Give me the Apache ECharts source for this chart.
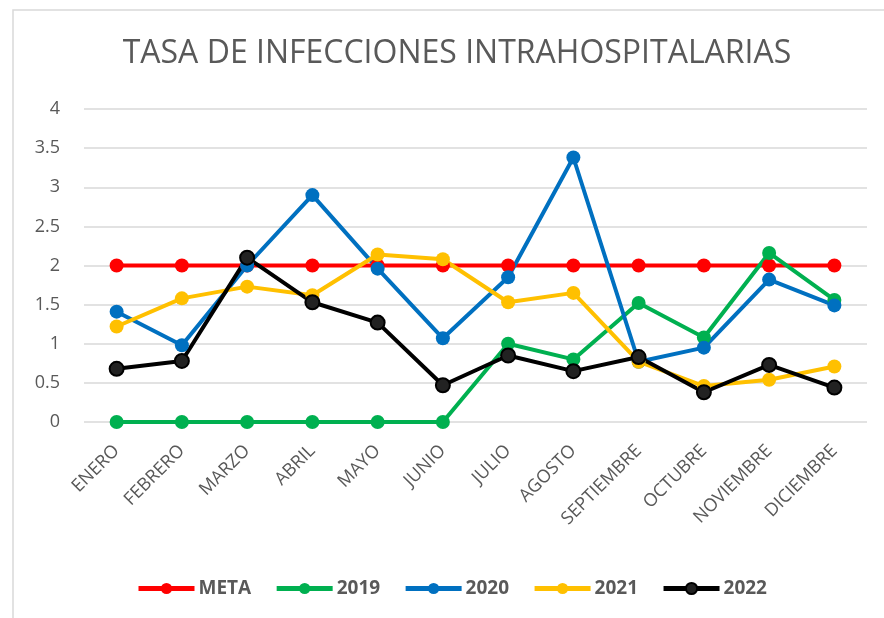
<!DOCTYPE html>
<html>
<head>
<meta charset="utf-8">
<script src="https://cdn.jsdelivr.net/npm/echarts@6/dist/echarts.min.js"></script>
<style>
  html, body { margin: 0; padding: 0; background: #fff; }
  #chart { width: 884px; height: 618px; }
</style>
</head>
<body>
<div id="chart"></div>
<script>
// datos
const meses = ['ENERO', 'FEBRERO', 'MARZO', 'ABRIL', 'MAYO', 'JUNIO', 'JULIO', 'AGOSTO', 'SEPTIEMBRE', 'OCTUBRE', 'NOVIEMBRE', 'DICIEMBRE']
const meta = [2, 2, 2, 2, 2, 2, 2, 2, 2, 2, 2, 2]
const y2019 = [0, 0, 0, 0, 0, 0, 1.0, 0.8, 1.52, 1.08, 2.16, 1.56]
const y2020 = [1.41, 0.98, 2.0, 2.9, 1.96, 1.07, 1.85, 3.38, 0.77, 0.95, 1.82, 1.49]
const y2021 = [1.22, 1.58, 1.73, 1.62, 2.14, 2.08, 1.53, 1.65, 0.77, 0.46, 0.54, 0.71]
const y2022 = [0.68, 0.78, 2.1, 1.53, 1.27, 0.47, 0.85, 0.65, 0.83, 0.38, 0.73, 0.44]

const font = 'Open Sans, sans-serif'
const textColor = '#595959'

function serie(name, data, color, border) {
  return {
    name,
    type: 'line',
    data,
    symbol: 'circle',
    symbolSize: 14,
    lineStyle: { width: 4, color },
    itemStyle: { color: border ? '#222' : color, borderColor: color, borderWidth: border ? 2 : 0 },
    emphasis: { disabled: true },
    animation: false
  }
}

const chart = echarts.init(document.getElementById('chart'))
chart.setOption({
  backgroundColor: '#fff',
  graphic: [{
    type: 'rect',
    shape: { x: 13, y: 10, width: 900, height: 700 },
    style: { fill: 'none', stroke: '#d9d9d9', lineWidth: 1.5 }
  }],
  title: {
    text: 'TASA DE INFECCIONES INTRAHOSPITALARIAS',
    left: 452,
    textAlign: 'center',
    top: 33,
    textStyle: { fontFamily: font, fontSize: 32, fontWeight: 'normal', color: textColor }
  },
  legend: {
    top: 574,
    left: 131,
    itemWidth: 56,
    itemHeight: 14,
    itemGap: 23,
    lineStyle: { width: 5 },
    textStyle: { fontFamily: font, fontSize: 19, fontWeight: 'bold', color: textColor, padding: [0, 0, 0, -1] },
    data: ['META', '2019', '2020', '2021', '2022']
  },
  grid: { left: 84, right: 17, top: 109, bottom: 196 },
  xAxis: {
    type: 'category',
    data: meses,
    boundaryGap: true,
    axisLine: { show: false },
    axisTick: { show: false },
    axisLabel: {
      rotate: 45,
      interval: 0,
      margin: 26,
      fontFamily: font,
      fontSize: 18,
      color: textColor
    }
  },
  yAxis: {
    type: 'value',
    min: 0,
    max: 4,
    interval: 0.5,
    axisLine: { show: false },
    axisTick: { show: false },
    axisLabel: { fontFamily: font, fontSize: 18, color: textColor, margin: 24 },
    splitLine: { lineStyle: { color: '#d9d9d9', width: 1.5 } }
  },
  series: [
    serie('META', meta, '#ff0000'),
    serie('2019', y2019, '#00b050'),
    serie('2020', y2020, '#0070c0'),
    serie('2021', y2021, '#ffc000'),
    serie('2022', y2022, '#000000', true)
  ]
})
</script>
</body>
</html>
